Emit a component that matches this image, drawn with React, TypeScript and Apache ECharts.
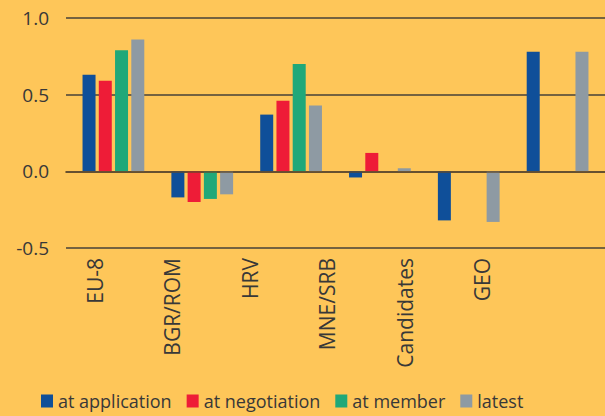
import React, { useEffect, useRef } from "react";
import * as echarts from "echarts";

const categories = ["EU-8", "BGR/ROM", "HRV", "MNE/SRB", "Candidates", "GEO"];
const seriesNames = ["at application", "at negotiation", "at member", "latest"];
const atApplication = [0.63, -0.17, 0.37, -0.04, -0.32, 0.78];
const atNegotiation = [0.59, -0.2, 0.46, 0.12, null, null];
const atMember = [0.79, -0.18, 0.7, null, null, null];
const latest = [0.86, -0.15, 0.43, 0.02, -0.33, 0.78];
const yTicks = { min: -0.5, max: 1.0, interval: 0.5 };

const colors = ["#0f4f99", "#ee1c37", "#20a879", "#8e9aa3"];
const FONT = "Open Sans";
const TEXT = "#383838";

export default function App() {
  const ref = useRef<HTMLDivElement>(null);
  useEffect(() => {
    if (!ref.current) return;
    const chart = echarts.init(ref.current, null, { renderer: "svg" });
    const values = [atApplication, atNegotiation, atMember, latest];
    const yRange = { min: yTicks.min, max: yTicks.max, interval: yTicks.interval };
    chart.setOption({
      animation: false,
      backgroundColor: "#fec659",
      color: colors,
      textStyle: { fontFamily: FONT },
      grid: [
        { left: 66, right: 0, top: 18, bottom: 168 },
        { left: 56, width: 465, top: 18, bottom: 168 },
        { left: 69, right: 3, top: 18, bottom: 168 },
      ],
      legend: {
        data: seriesNames,
        left: 36,
        top: 387,
        width: 1200,
        icon: "rect",
        itemWidth: 12,
        itemHeight: 13,
        itemGap: 15,
        textStyle: { fontFamily: FONT, fontSize: 18, color: TEXT },
      },
      xAxis: [
        {
          type: "category",
          gridIndex: 0,
          data: categories,
          z: 10,
          axisLine: { onZero: true, lineStyle: { color: "rgba(95,70,40,0.65)", width: 2 } },
          axisTick: { show: false },
          axisLabel: { show: false },
        },
        {
          type: "category",
          gridIndex: 1,
          data: categories,
          axisLine: { show: false },
          axisTick: { show: false },
          axisLabel: {
            rotate: 90,
            margin: 10,
            fontFamily: FONT,
            fontSize: 21,
            color: TEXT,
          },
        },
        {
          type: "category",
          gridIndex: 2,
          data: categories,
          show: false,
        },
      ],
      yAxis: [
        {
          type: "value",
          gridIndex: 0,
          ...yRange,
          axisLine: { show: false },
          axisTick: { show: false },
          splitLine: { lineStyle: { color: "#464038", width: 1.5 } },
          axisLabel: {
            margin: 17,
            fontFamily: FONT,
            fontSize: 19,
            color: TEXT,
            formatter: (v: number) => v.toFixed(1),
          },
        },
        { type: "value", gridIndex: 1, show: false, min: 0, max: 1 },
        { type: "value", gridIndex: 2, show: false, ...yRange },
      ],
      series: seriesNames.map((name, i) => ({
        name,
        type: "bar",
        xAxisIndex: 2,
        yAxisIndex: 2,
        data: values[i],
        barWidth: 13,
        barGap: "25%",
        itemStyle: { color: colors[i] },
      })),
    });
    return () => chart.dispose();
  }, []);
  return (
    <div
      ref={ref}
      style={{ position: "fixed", left: 0, top: 0, width: 605, height: 416 }}
    />
  );
}
